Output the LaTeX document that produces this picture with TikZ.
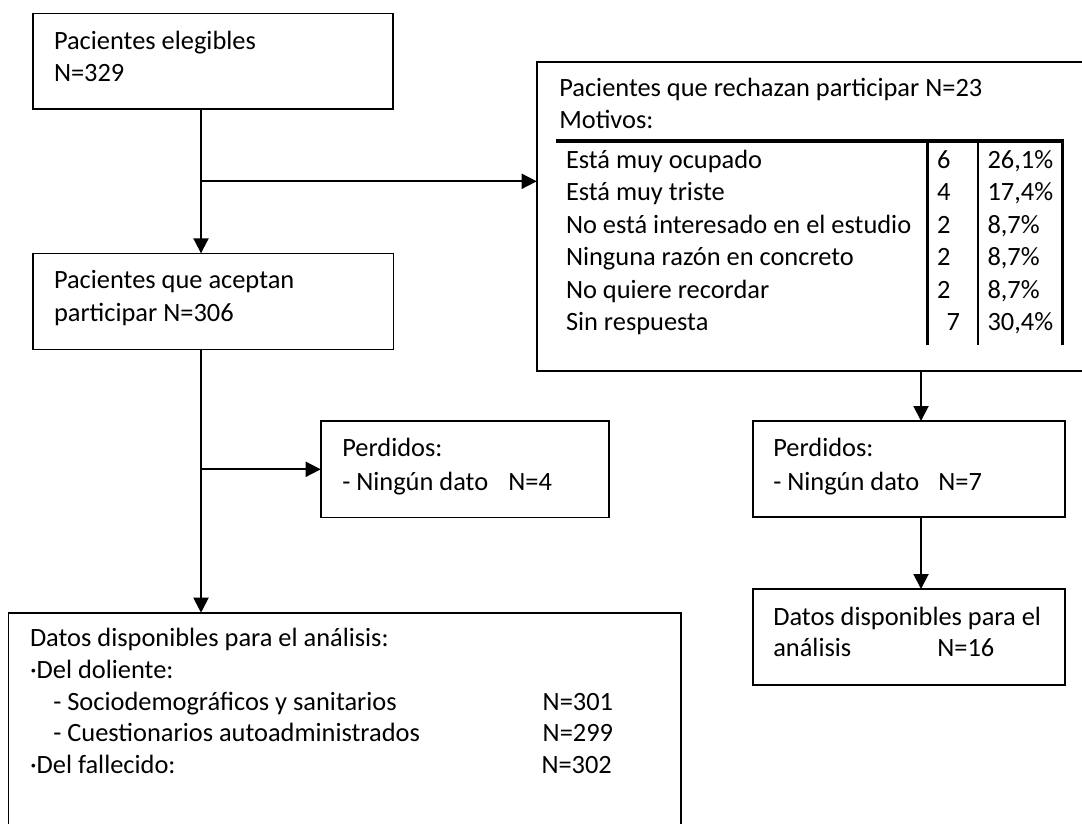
\documentclass[tikz,border=0pt]{standalone}
\usepackage{fontspec}
\setmainfont{Carlito}
\usetikzlibrary{arrows.meta}
\newcommand\mytxtfont{\fontsize{26.4pt}{32pt}\selectfont}
\begin{document}
\begin{tikzpicture}[x=1pt,y=-1pt,
  box/.style={draw=black, line width=1.6pt, rectangle, inner sep=0pt, outer sep=0pt, anchor=north west},
  txt/.style={inner sep=0pt, outer sep=0pt, anchor=base west, font=\mytxtfont},
  conn/.style={line width=2pt, -{Triangle[length=15pt,width=15pt]}}]
\useasboundingbox (0,0) rectangle (1082,823);
\fill[white] (0,0) rectangle (1082,823);
\clip (0,0) rectangle (1082,823);

% box 1
\node[box, minimum width=360pt, minimum height=95.4pt] (b1) at (32.7,13.3) {};
\node[txt] (b1t1) at (54,49.3) {Pacientes elegibles};
\node[txt] (b1t2) at (54,81.7) {N=329};

% box 2
\node[box, minimum width=360.6pt, minimum height=96pt] (b2) at (32.7,253.3) {};
\node[txt] (b2t1) at (54,288.3) {Pacientes que aceptan};
\node[txt] (b2t2) at (54,321.7) {participar N=306};

% big box (rechazan)
\node[box, minimum width=560pt, minimum height=309pt] (bb) at (536.7,61.7) {};
\node[txt] (bbt1) at (559.3,96.5) {Pacientes que rechazan participar N=23};
\node[txt] (bbt2) at (559.3,128.5) {Motivos:};
\draw[line width=4pt] (556,141) -- (1063.7,141);
\draw[line width=3.2pt] (927.7,141) -- (927.7,345);
\draw[line width=2.2pt] (977.7,141) -- (977.7,345);
\draw[line width=2.4pt] (1062.5,141) -- (1062.5,345);
\node[txt] (r1a) at (566,168) {Está muy ocupado};
\node[txt] (r1b) at (937,168) {6};
\node[txt] (r1c) at (987.5,168) {26,1\%};
\node[txt] (r2a) at (566,200.5) {Está muy triste};
\node[txt] (r2b) at (937,200.5) {4};
\node[txt] (r2c) at (987.5,200.5) {17,4\%};
\node[txt] (r3a) at (566,233) {No está interesado en el estudio};
\node[txt] (r3b) at (937,233) {2};
\node[txt] (r3c) at (987.5,233) {8,7\%};
\node[txt] (r4a) at (566,265.5) {Ninguna razón en concreto};
\node[txt] (r4b) at (937,265.5) {2};
\node[txt] (r4c) at (987.5,265.5) {8,7\%};
\node[txt] (r5a) at (566,298) {No quiere recordar};
\node[txt] (r5b) at (937,298) {2};
\node[txt] (r5c) at (987.5,298) {8,7\%};
\node[txt] (r6a) at (566,330.5) {Sin respuesta};
\node[txt] (r6b) at (946.7,330.5) {7};
\node[txt] (r6c) at (987.5,330.5) {30,4\%};

% perdidos left
\node[box, minimum width=288.3pt, minimum height=96.3pt] (p1) at (320.7,421) {};
\node[txt] (p1t1) at (342.3,456.7) {Perdidos:};
\node[txt] (p1t2) at (342.3,490) {- Ningún dato};
\node[txt] (p1t3) at (508.3,490) {N=4};

% perdidos right
\node[box, minimum width=312.3pt, minimum height=95.7pt] (p2) at (752.7,421) {};
\node[txt] (p2t1) at (773.3,456.7) {Perdidos:};
\node[txt] (p2t2) at (773.3,490) {- Ningún dato};
\node[txt] (p2t3) at (938.3,490) {N=7};

% datos right
\node[box, minimum width=312.3pt, minimum height=96pt] (d2) at (752.7,589) {};
\node[txt] (d2t1) at (773.3,625) {Datos disponibles para el};
\node[txt] (d2t2) at (773.3,656.7) {análisis};
\node[txt] (d2t3) at (937.3,656.7) {N=16};

% datos left (bottom)
\node[box, minimum width=672.7pt, minimum height=260pt] (d1) at (8.3,612.7) {};
\node[txt] (d1t1) at (30,646.7) {Datos disponibles para el análisis:};
\node[txt] (d1t2) at (30,678.3) {·Del doliente:};
\node[txt] (d1t3) at (53.3,710) {- Sociodemográficos y sanitarios};
\node[txt] (d1t3n) at (542.7,710) {N=301};
\node[txt] (d1t4) at (53.3,741.7) {- Cuestionarios autoadministrados};
\node[txt] (d1t4n) at (542.7,741.7) {N=299};
\node[txt] (d1t5) at (30,773.3) {·Del fallecido:};
\node[txt] (d1t5n) at (541.5,773.3) {N=302};

% connectors
\coordinate (j1) at (201,181.3);
\coordinate (j2) at (201,469.3);
\coordinate (j3) at (921,400);
\draw[conn] (b1.south -| j1) -- (b2.north -| j1);
\draw[conn] (j1) -- (j1 -| bb.west);
\draw[conn] (b2.south -| j2) -- (d1.north -| j2);
\draw[conn] (j2) -- (j2 -| p1.west);
\draw[conn] (bb.south -| j3) -- (p2.north -| j3);
\draw[conn] (p2.south -| j3) -- (d2.north -| j3);
\end{tikzpicture}
\end{document}
